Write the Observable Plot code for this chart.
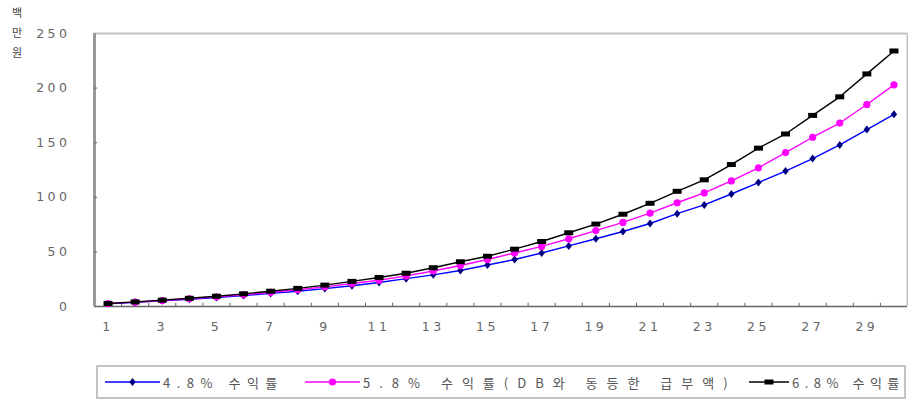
<!DOCTYPE html>
<html><head><meta charset="utf-8">
<script src="https://cdn.jsdelivr.net/npm/d3@7"></script>
<script src="https://cdn.jsdelivr.net/npm/@observablehq/plot@0.6"></script>
<style>
body{margin:0;background:#fff;font-family:"Noto Sans CJK KR","DejaVu Sans",sans-serif;}
#wrap{position:relative;width:908px;height:401px;overflow:hidden;}
#unit{position:absolute;left:10px;top:2px;font-size:11px;line-height:20px;color:#444;width:14px;text-align:center;}
#chart{position:absolute;left:0;top:0;}
#chart svg text{letter-spacing:3.5px;}
#legend{position:absolute;left:96px;top:365px;border:2px solid #c4c4c4;font-size:13px;color:#555;white-space:nowrap;box-sizing:border-box;width:810px;height:34px;overflow:hidden;}
#legend .item{position:absolute;top:0;height:30px;display:flex;align-items:center;}
#legend svg{margin-right:3px;}
</style></head>
<body><div id="wrap"><div id="unit">백<br>만<br>원</div><div id="chart"></div><div id="legend"></div></div>
<script>
const years = [1,2,3,4,5,6,7,8,9,10,11,12,13,14,15,16,17,18,19,20,21,22,23,24,25,26,27,28,29,30];
const xTickLabels = [1,3,5,7,9,11,13,15,17,19,21,23,25,27,29];
const yTicks = [0,50,100,150,200,250];
const names = ["4.8% 수익률", "5.8% 수익률(DB와 동등한 급부액)", "6.8% 수익률"];
const v48 = [2.5,3.8,5.2,6.7,8.3,10,12,14,16.4,19,22,25.5,29,33,38,43,49,55.5,62,68.7,76,85,93,103,113.5,124,135.5,148,162,176];
const v58 = [2.6,4,5.5,7.1,8.9,10.8,13,15.3,18,21,24,28,32.5,37.5,43,49,55,62,69.5,77,85.5,95,104,115,127,141,155,168,185,203];
const v68 = [2.7,4.2,5.8,7.5,9.4,11.6,14,16.6,19.6,23,26.6,30.5,35.5,41,46,52.5,59.5,67.5,75.5,84.5,94.5,105.5,116,130,145,158,175,192,213,234];
const lineColors = ["#0000ff","#ff00ff","#000000"];
const markColors = ["#000080","#ff00ff","#000000"];

const rectSym = {draw(ctx, size){ const w=4.5, h=2.5; ctx.moveTo(-w,-h); ctx.lineTo(w,-h); ctx.lineTo(w,h); ctx.lineTo(-w,h); ctx.closePath(); }};
const diamondSym = {draw(ctx, size){ const w=3.2, h=4; ctx.moveTo(0,-h); ctx.lineTo(w,0); ctx.lineTo(0,h); ctx.lineTo(-w,0); ctx.closePath(); }};
const circleSym = {draw(ctx, size){ const r=3.6; ctx.moveTo(r,0); ctx.arc(0,0,r,0,2*Math.PI); }};
const symbols = [diamondSym, circleSym, rectSym];

const seriesValues = [v48, v58, v68];
const series = names.map((n,k)=>({name:n, rows: years.map((y,i)=>({year:y, value:seriesValues[k][i]}))}));
const boundaries = years.slice(0,-1).map(y=>y+0.5);

const marks = [
  Plot.ruleY([250], {stroke:"#c4c4c4", strokeWidth:2}),
  Plot.ruleX([30.5], {stroke:"#c4c4c4", strokeWidth:2}),
  Plot.ruleY([0], {stroke:"#666", strokeWidth:1.5}),
  Plot.ruleX(boundaries, {y1:0, y2:3, stroke:"#666"}),
  Plot.ruleX([0.5], {stroke:"#999", strokeWidth:3}),
  Plot.ruleY(yTicks.slice(1,-1), {x1:0.5, x2:0.62, stroke:"#666"}),
  Plot.axisX({ticks:xTickLabels, tickSize:0, tickPadding:16, label:null, fill:"#666"}),
  Plot.axisY({ticks:yTicks, tickSize:0, tickPadding:24, label:null, fill:"#666"})
];
series.forEach((s,k)=>{
  marks.push(Plot.line(s.rows, {x:"year", y:"value", stroke:lineColors[k], strokeWidth:1.4}));
  marks.push(Plot.dot(s.rows, {x:"year", y:"value", fill:markColors[k], stroke:"none", symbol:symbols[k], r:4}));
});

const chart = Plot.plot({
  width:908, height:345, marginLeft:94, marginRight:1, marginTop:33, marginBottom:39,
  x:{domain:[0.5,30.5]}, y:{domain:[0,250]},
  style:{fontFamily:'"DejaVu Sans", sans-serif', fontSize:"12.5px", background:"none", overflow:"visible"},
  marks
});
document.getElementById("chart").appendChild(chart);

const legend = document.getElementById("legend");
const swW = [55, 55, 40];
const itemLeft = [7, 207, 651];
const itemSpacing = [6.5, 9, 5.5];
names.forEach((n,k)=>{
  const item = document.createElement("div"); item.className="item";
  item.style.left = itemLeft[k] + "px";
  item.style.letterSpacing = itemSpacing[k] + "px";
  const w = swW[k];
  const sw = d3.create("svg").attr("width",w).attr("height",12);
  sw.append("line").attr("x1",0).attr("x2",w).attr("y1",6).attr("y2",6).attr("stroke",lineColors[k]).attr("stroke-width",1.6);
  sw.append("path").attr("d", d3.symbol(symbols[k])()).attr("transform",`translate(${w/2},6)`).attr("fill",markColors[k]);
  item.appendChild(sw.node());
  const t = document.createElement("span"); t.textContent = n; item.appendChild(t);
  legend.appendChild(item);
});
</script></body></html>
